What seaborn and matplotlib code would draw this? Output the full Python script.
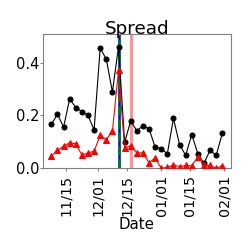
import pandas as pd
import matplotlib
matplotlib.use("Agg")
import matplotlib.pyplot as plt
import matplotlib.dates as mdates
import seaborn as sns

sns.set_style("white")
plt.rcParams['font.family'] = ['DejaVu Sans']
plt.rcParams['text.color'] = 'black'
plt.rcParams['axes.labelcolor'] = 'black'

# sampled every 3 days
dates = pd.date_range("2019-11-08", periods=29, freq="3D")
black_vals = [0.166, 0.205, 0.156, 0.263, 0.230, 0.215, 0.200, 0.146, 0.455, 0.413,
              0.289, 0.460, 0.098, 0.180, 0.142, 0.161, 0.150, 0.080, 0.075, 0.055,
              0.189, 0.090, 0.049, 0.128, 0.055, 0.019, 0.068, 0.049, 0.132]
red_vals = [0.047, 0.068, 0.084, 0.097, 0.093, 0.050, 0.058, 0.065, 0.125, 0.109,
            0.140, 0.371, 0.077, 0.086, 0.059, 0.058, 0.021, 0.039, 0.000, 0.004,
            0.013, 0.006, 0.011, 0.010, 0.043, 0.011, 0.011, 0.000, 0.010]
event_date = pd.Timestamp("2019-12-11")
red_line_date = pd.Timestamp("2019-12-17")

df = pd.DataFrame({"date": dates, "black": black_vals, "red": red_vals})

fig = plt.figure(figsize=(2.49, 2.49), dpi=100)
ax = fig.add_axes([0.172, 0.324, 0.755, 0.538])

# vertical markers go underneath the series
ax.axvline(event_date, color="blue", linewidth=1.8, zorder=1)
ax.axvline(event_date, color="green", linewidth=1.8, linestyle="--", zorder=1.1)
ax.axvline(red_line_date, color="red", linewidth=2, alpha=0.45, zorder=1)

sns.lineplot(data=df, x="date", y="black", ax=ax, color="black", marker="o",
             markersize=3.6, linewidth=0.8, markeredgecolor="black", zorder=3)
sns.lineplot(data=df, x="date", y="red", ax=ax, color="red", marker="^",
             markersize=3.8, linewidth=0.8, markeredgecolor="red", zorder=3)

ax.set_ylim(0, 0.507)
ax.set_yticks([0.0, 0.2, 0.4])
ax.xaxis.set_major_locator(mdates.DayLocator(bymonthday=[1, 15]))
ax.xaxis.set_major_formatter(mdates.DateFormatter("%m/%d"))
ax.tick_params(axis="x", labelrotation=90, labelsize=10.3, length=2, color="gray",
               labelcolor="black", pad=2.8)
ax.tick_params(axis="y", labelsize=10.5, length=2, color="gray", labelcolor="black", pad=0.3)
ax.tick_params(bottom=True, left=True)

for s in ax.spines.values():
    s.set_color("gray")

ax.set_xlabel("Date", fontsize=10.8, labelpad=0.5)
ax.set_ylabel("")
ax.set_title("Spread", fontsize=13.2, pad=0.5)

fig.savefig("out.png", dpi=100)
